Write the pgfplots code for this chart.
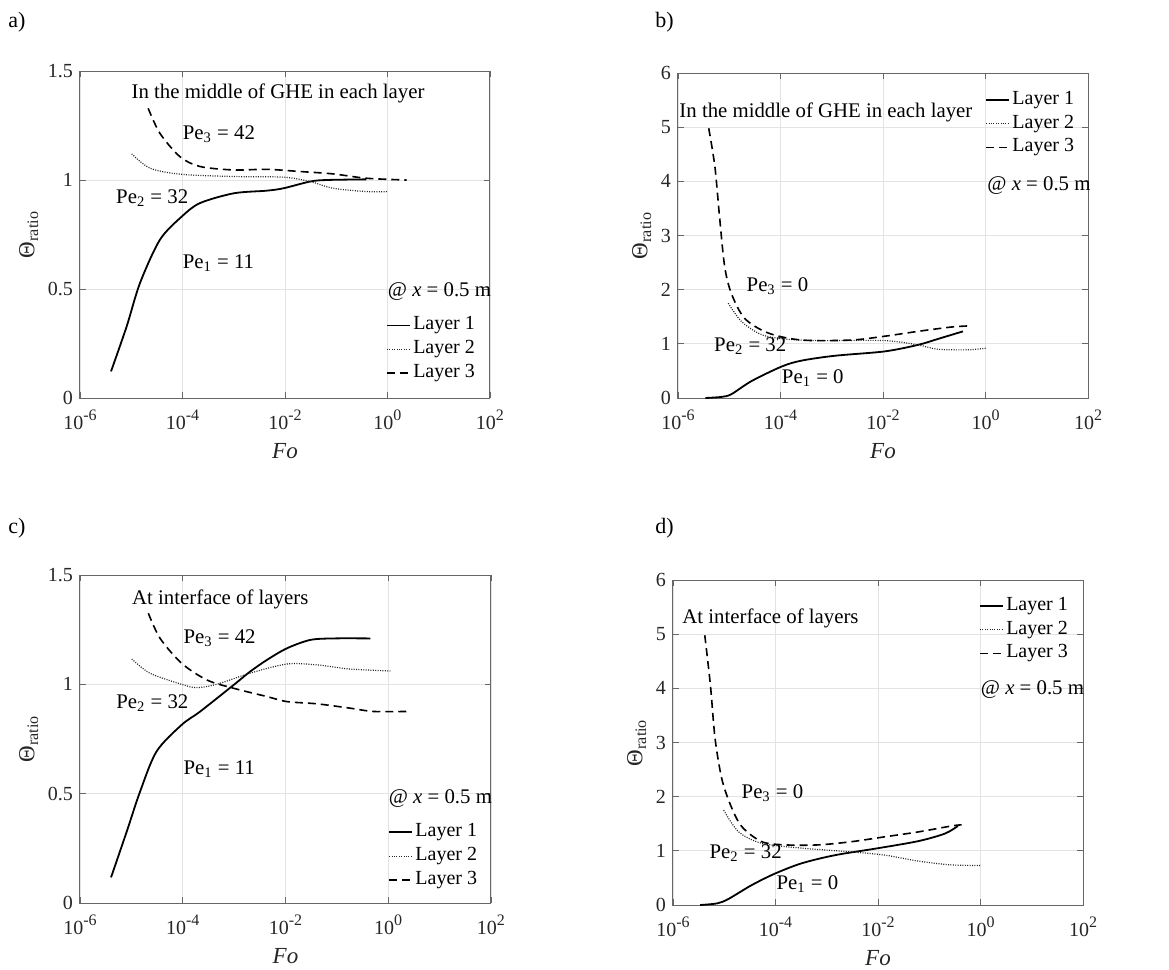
\documentclass[border=0pt]{standalone}
\usepackage{fontspec}
\setmainfont{Liberation Serif}
\usepackage{pgfplots}
\pgfplotsset{compat=1.18}

\definecolor{axgray}{gray}{0.15}
\newcommand{\expo}[1]{\raisebox{4.5pt}{\fontsize{8}{8}\selectfont #1}}

\pgfplotsset{
  every axis/.append style={
    scale only axis,
    xmin=1e-6, xmax=1e2, ymin=0,
    xtick={1e-6,1e-4,1e-2,1,1e2},
    xticklabels={10\expo{-6},10\expo{-4},10\expo{-2},10\expo{0},10\expo{2}},
    tick align=inside, major tick length=3pt,
    axis line style={draw=axgray!70, line width=0.5pt},
    tick style={draw=axgray!70, line width=0.4pt},
    grid=major, grid style={gray!22, line width=0.4pt},
    ticklabel style={font=\fontsize{10}{12}\selectfont, text=axgray},
    xticklabel style={yshift=-2.5pt},
    xlabel={\textit{Fo}}, ylabel={Θ\textsubscript{ratio}},
    label style={font=\fontsize{11.5}{13}\selectfont, text=axgray},
    ylabel shift=-2pt,
    clip=false,
    legend cell align=left,
    legend style={draw=none, fill=none, inner sep=0pt, outer sep=0pt,
      font=\fontsize{10}{12}\selectfont,
      row sep=0pt, nodes={inner sep=1.2pt, text height=7pt, text depth=2.5pt}},
  },
  legend image code/.code={\draw[#1] (0pt,0pt) -- (11.5pt,0pt);},
}
\tikzset{
  l1/.style={black, line width=0.9pt, smooth},
  l2/.style={black!85, line width=0.6pt, dash pattern=on 0.5pt off 0.7pt, smooth},
  l3/.style={black, line width=0.8pt, dash pattern=on 4pt off 2.5pt, smooth},
}
\newcommand{\txt}{\fontsize{10.4}{12}\selectfont}

\begin{document}
\begin{tikzpicture}

% ---------------- a) ----------------
\begin{semilogxaxis}[ymax=1.5, ytick={0,0.5,1,1.5}, yticklabels={0,0.5,1,1.5},
  at={(40pt,-199pt)}, anchor=south west,
  width=205pt, height=163.5pt,
  legend style={at={(0.969,0.04)}, anchor=south east}]
\addplot[l1] coordinates {(4.03e-6,0.122) (8.13e-6,0.328) (1.48e-5,0.527) (3.63e-5,0.726) (9.64e-5,0.832) (2.19e-4,0.894) (1e-3,0.939) (4.37e-3,0.951) (9.33e-3,0.962) (3.09e-2,0.993) (6.46e-2,1.0) (0.389,1.003)};
\addplot[l2] coordinates {(1.02e-5,1.12) (2.34e-5,1.054) (9.64e-5,1.026) (1e-3,1.016) (9.33e-3,1.013) (3.09e-2,0.993) (8.71e-2,0.962) (0.389,0.947) (1.04,0.947)};
\addplot[l3] coordinates {(2.14e-5,1.329) (3.63e-5,1.214) (8.91e-5,1.107) (2.19e-4,1.062) (1e-3,1.046) (4.37e-3,1.049) (1.95e-2,1.039) (8.71e-2,1.028) (0.389,1.008) (2.37,1.0)};
\legend{Layer 1, Layer 2, Layer 3}
\node[anchor=west, inner sep=0pt, font=\txt] at (axis cs:1e-5,1.395) {In the middle of GHE in each layer};
\node[anchor=west, inner sep=0pt, font=\txt] at (axis cs:1e-4,1.21) {Pe\textsubscript{3} = 42};
\node[anchor=west, inner sep=0pt, font=\txt] at (axis cs:5e-6,0.916) {Pe\textsubscript{2} = 32};
\node[anchor=west, inner sep=0pt, font=\txt] at (axis cs:1e-4,0.619) {Pe\textsubscript{1} = 11};
\node[anchor=west, inner sep=0pt, font=\txt] at (axis cs:1,0.489) {@ \textit{x} = 0.5 m};
\end{semilogxaxis}

% ---------------- b) ----------------
\begin{semilogxaxis}[ymax=6, ytick={0,1,2,3,4,5,6}, yticklabels={0,1,2,3,4,5,6},
  at={(339pt,-199pt)}, anchor=south west,
  width=205pt, height=162.5pt,
  legend style={at={(0.972,0.954)}, anchor=north east}]
\addplot[l1] coordinates {(3.41e-6,0) (7.01e-6,0.02) (1.10e-5,0.07) (2.69e-5,0.31) (1.047e-4,0.58) (2.57e-4,0.69) (1.15e-3,0.78) (1.07e-2,0.86) (4.79e-2,0.98) (0.1175,1.09) (0.363,1.23)};
\addplot[l2] coordinates {(9.55e-6,1.75) (1.74e-5,1.41) (4.27e-5,1.17) (1.20e-4,1.09) (5.37e-4,1.06) (1.07e-2,1.06) (4.79e-2,0.98) (0.1175,0.90) (0.457,0.89) (1.04,0.92)};
\addplot[l3] coordinates {(3.98e-6,4.98) (5.25e-6,4.27) (6.46e-6,3.35) (8.13e-6,2.43) (1.10e-5,1.93) (2.0e-5,1.47) (5.75e-5,1.2) (2.57e-4,1.07) (2.40e-3,1.07) (1.07e-2,1.14) (4.79e-2,1.23) (0.214,1.31) (0.457,1.33)};
\legend{Layer 1, Layer 2, Layer 3}
\node[anchor=west, inner sep=0pt, font=\txt] at (axis cs:1.05e-6,5.28) {In the middle of GHE in each layer};
\node[anchor=west, inner sep=0pt, font=\txt] at (axis cs:2.15e-5,2.07) {Pe\textsubscript{3} = 0};
\node[anchor=west, inner sep=0pt, font=\txt] at (axis cs:5e-6,0.95) {Pe\textsubscript{2} = 32};
\node[anchor=west, inner sep=0pt, font=\txt] at (axis cs:1.05e-4,0.37) {Pe\textsubscript{1} = 0};
\node[anchor=west, inner sep=0pt, font=\txt] at (axis cs:1.07,3.93) {@ \textit{x} = 0.5 m};
\end{semilogxaxis}

% ---------------- c) ----------------
\begin{semilogxaxis}[ymax=1.5, ytick={0,0.5,1,1.5}, yticklabels={0,0.5,1,1.5},
  at={(40pt,-451.5pt)}, anchor=south west,
  width=205.5pt, height=164pt,
  legend style={at={(0.972,0.034)}, anchor=south east}]
\addplot[l1] coordinates {(4.02e-6,0.117) (8.13e-6,0.327) (1.48e-5,0.51) (3.09e-5,0.693) (9.55e-5,0.815) (2.19e-4,0.876) (9.77e-4,0.997) (2.04e-3,1.058) (4.37e-3,1.112) (1.07e-2,1.165) (3.02e-2,1.203) (8.71e-2,1.21) (0.447,1.21)};
\addplot[l2] coordinates {(1.02e-5,1.116) (2.29e-5,1.051) (9.55e-5,1.0) (1.86e-4,0.985) (4.57e-4,1.0) (2.04e-3,1.051) (1.07e-2,1.093) (4.07e-2,1.089) (0.182,1.07) (1.10,1.061)};
\addplot[l3] coordinates {(2.14e-5,1.325) (3.63e-5,1.21) (9.55e-5,1.096) (2.95e-4,1.02) (9.77e-4,0.982) (4.37e-3,0.944) (1.07e-2,0.921) (4.07e-2,0.911) (0.182,0.891) (0.513,0.876) (2.29,0.876)};
\legend{Layer 1, Layer 2, Layer 3}
\node[anchor=west, inner sep=0pt, font=\txt] at (axis cs:1.02e-5,1.389) {At interface of layers};
\node[anchor=west, inner sep=0pt, font=\txt] at (axis cs:1.02e-4,1.21) {Pe\textsubscript{3} = 42};
\node[anchor=west, inner sep=0pt, font=\txt] at (axis cs:5e-6,0.914) {Pe\textsubscript{2} = 32};
\node[anchor=west, inner sep=0pt, font=\txt] at (axis cs:1.02e-4,0.614) {Pe\textsubscript{1} = 11};
\node[anchor=west, inner sep=0pt, font=\txt] at (axis cs:1.01,0.48) {@ \textit{x} = 0.5 m};
\end{semilogxaxis}

% ---------------- d) ----------------
\begin{semilogxaxis}[ymax=6, ytick={0,1,2,3,4,5,6}, yticklabels={0,1,2,3,4,5,6},
  at={(336.5pt,-452.5pt)}, anchor=south west,
  width=205pt, height=162.5pt,
  legend style={at={(0.969,0.957)}, anchor=north east}]
\addplot[l1] coordinates {(3.39e-6,0) (7.24e-6,0.03) (1.20e-5,0.11) (3.47e-5,0.37) (9.77e-5,0.58) (3.24e-4,0.77) (1.45e-3,0.92) (1.02e-2,1.05) (6.17e-2,1.18) (0.204,1.32) (0.363,1.46)};
\addplot[l2] coordinates {(9.77e-6,1.75) (1.91e-5,1.35) (5.37e-5,1.14) (3.24e-4,1.05) (3.09e-3,0.98) (1.38e-2,0.92) (6.17e-2,0.81) (0.275,0.74) (1.05,0.73)};
\addplot[l3] coordinates {(4.17e-6,4.98) (5.37e-6,4.06) (6.61e-6,3.08) (8.91e-6,2.34) (1.32e-5,1.85) (2.19e-5,1.45) (5.37e-5,1.17) (1.55e-4,1.11) (6.92e-4,1.11) (3.09e-3,1.17) (1.38e-2,1.26) (6.17e-2,1.35) (0.275,1.46) (0.427,1.48)};
\legend{Layer 1, Layer 2, Layer 3}
\node[anchor=west, inner sep=0pt, font=\txt] at (axis cs:1.5e-6,5.29) {At interface of layers};
\node[anchor=west, inner sep=0pt, font=\txt] at (axis cs:2.15e-5,2.06) {Pe\textsubscript{3} = 0};
\node[anchor=west, inner sep=0pt, font=\txt] at (axis cs:5.1e-6,0.95) {Pe\textsubscript{2} = 32};
\node[anchor=west, inner sep=0pt, font=\txt] at (axis cs:1.03e-4,0.38) {Pe\textsubscript{1} = 0};
\node[anchor=west, inner sep=0pt, font=\txt] at (axis cs:1,3.97) {@ \textit{x} = 0.5 m};
\end{semilogxaxis}

% panel letters
\node[anchor=west, inner sep=0pt, font=\fontsize{11}{13}\selectfont] at (4pt,-11pt) {a)};
\node[anchor=west, inner sep=0pt, font=\fontsize{11}{13}\selectfont] at (327.5pt,-11pt) {b)};
\node[anchor=west, inner sep=0pt, font=\fontsize{11}{13}\selectfont] at (4pt,-264pt) {c)};
\node[anchor=west, inner sep=0pt, font=\fontsize{11}{13}\selectfont] at (327.5pt,-264pt) {d)};

\pgfresetboundingbox
\useasboundingbox (0,0) rectangle (584.5pt,-485pt);
\end{tikzpicture}
\end{document}
